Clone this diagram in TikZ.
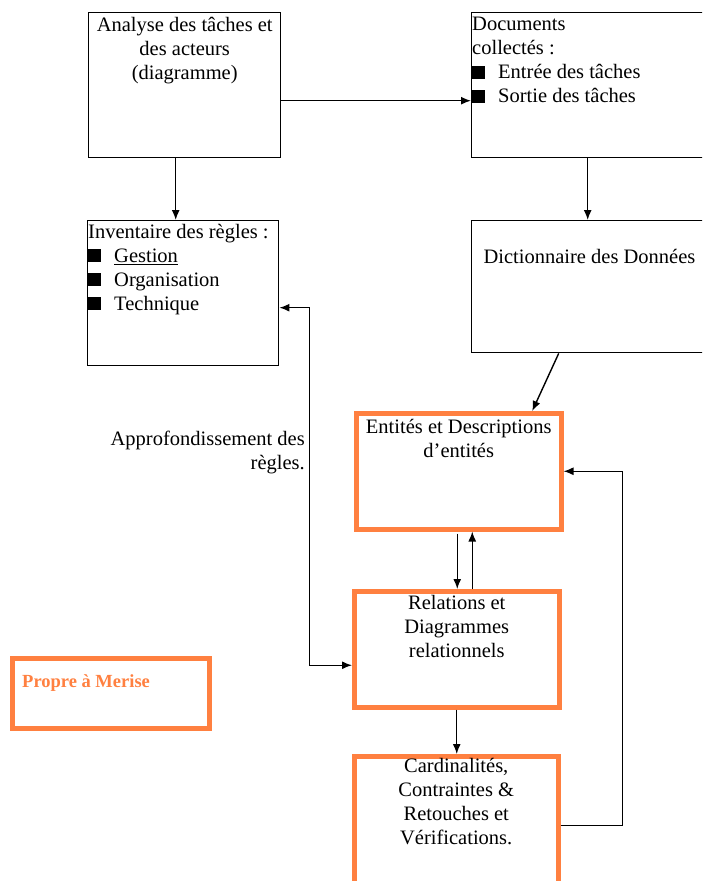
\documentclass[tikz,border=0pt]{standalone}
\usepackage{fontspec}
\setmainfont{Liberation Serif}
\definecolor{MeriseOrange}{HTML}{FF8040}
\usetikzlibrary{arrows.meta,calc,positioning}
\newcommand{\carre}{\rule[0pt]{13pt}{13pt}\hspace{13pt}}

\begin{document}
\begin{tikzpicture}[x=1pt,y=-1pt,>={Latex[length=10pt,width=8pt]},
  box/.style={draw,line width=1.4pt,rectangle,anchor=north west,inner sep=0pt},
  mbox/.style={draw=MeriseOrange,line width=4.5pt,rectangle,anchor=north west,inner sep=0pt},
  txt/.style={inner sep=0pt,font=\fontsize{20.5}{24}\selectfont},
  link/.style={line width=1.4pt}]
  \useasboundingbox (0,0) rectangle (702,881);
  \clip (0,0) rectangle (702,881);
  % boites du haut
  \node[box,minimum width=192pt,minimum height=145pt] (analyse) at (88,12) {};
  \node[box,minimum width=260pt,minimum height=145pt] (docs) at (471,12) {};
  \node[box,minimum width=191pt,minimum height=145pt] (inv) at (87,220) {};
  \node[box,minimum width=260pt,minimum height=132pt] (dict) at (471,220) {};
  \node[txt,align=center,below=5pt of analyse.north] (analyseT) {Analyse des tâches et\\des acteurs\\(diagramme)};
  \node[txt,align=left,anchor=north west] (docsT) at ($(docs.north west)+(1,5)$) {Documents\\collectés :\\\carre Entrée des tâches\\\carre Sortie des tâches};
  \node[txt,align=left,anchor=north west] (invT) at ($(inv.north west)+(1,4)$) {Inventaire des règles :\\\carre\underline{Gestion}\\\carre Organisation\\\carre Technique};
  \node[txt,anchor=north] (dictT) at (589.5,249) {Dictionnaire des Données};
  % boites Merise
  \node[mbox,minimum width=205pt,minimum height=116pt] (ent) at (354,411) {};
  \node[mbox,minimum width=205pt,minimum height=116pt] (rel) at (352,589) {};
  \node[mbox,minimum width=204pt,minimum height=146pt] (card) at (352,754) {};
  \node[mbox,minimum width=197pt,minimum height=70pt] (propre) at (10,656) {};
  \node[txt,align=center,below=8pt of ent.north] (entT) {Entités et Descriptions\\d’entités};
  \node[txt,align=center,below=6pt of rel.north] (relT) {Relations et\\Diagrammes\\relationnels};
  \node[txt,align=center,below=4pt of card.north] (cardT) {Cardinalités,\\Contraintes \&\\Retouches et\\Vérifications.};
  \node[inner sep=0pt,anchor=base west,text=MeriseOrange,font=\fontsize{18.5}{22}\selectfont\bfseries] (propreT) at (22,687) {Propre à Merise};
  \node[txt,align=right,anchor=north east] (approT) at (305,431) {Approfondissement des\\règles.};
  % fleches
  \draw[link,->] ($(analyse.east)+(0,15.5)$) -- ($(docs.west)+(0,15.5)$);
  \draw[link,->] ($(analyse.south)+(-9,0)$) coordinate (p1) -- (p1 |- inv.north);
  \draw[link,->] ($(docs.south)+(-14,0)$) coordinate (p2) -- (p2 |- dict.north);
  \draw[link,->] ($(dict.south)+(-43,0)$) -- ($(ent.north)+(73.5,0)$);
  \draw[link,->] (rel.north |- ent.south) ++(0.5,2) coordinate (p3) -- (p3 |- rel.north);
  \draw[link,->] ($(rel.north)+(15.5,0)$) coordinate (p4) -- (p4 |- ent.south);
  \draw[link,->] (rel.south) -- (rel.south |- card.north);
  \draw[link,->] ($(card.east)+(0,-4)$) -- ++(62,0) |- (ent.east);
  \draw[link,<->] ($(inv.east)+(0,14.5)$) -- ++(30,0) |- ($(rel.west)+(0,16)$);
\end{tikzpicture}
\end{document}
